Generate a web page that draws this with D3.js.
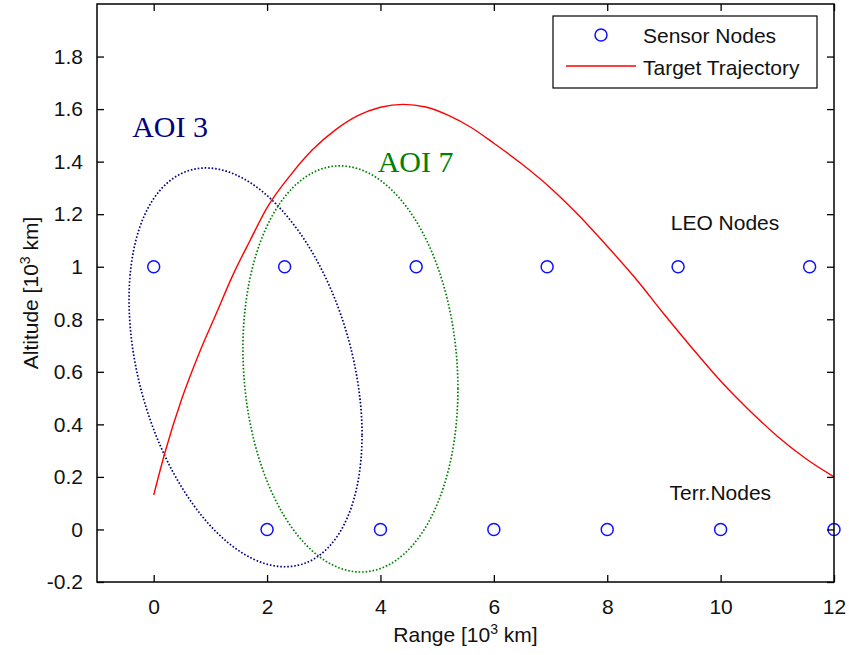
<!DOCTYPE html>
<html>
<head>
<meta charset="utf-8">
<script src="https://cdn.jsdelivr.net/npm/d3@7"></script>
<style>
  html, body { margin: 0; padding: 0; background: #fff; }
  svg { display: block; }
  text { font-family: "Liberation Sans", Arial, Helvetica, sans-serif; }
</style>
</head>
<body>
<svg id="chart" width="849" height="655"></svg>
<script>
// ---------------- data ----------------
const xTicks = [0, 2, 4, 6, 8, 10, 12];
const yTicks = [-0.2, 0, 0.2, 0.4, 0.6, 0.8, 1, 1.2, 1.4, 1.6, 1.8];
const xTickLabels = ["0", "2", "4", "6", "8", "10", "12"];
const yTickLabels = ["-0.2", "0", "0.2", "0.4", "0.6", "0.8", "1", "1.2", "1.4", "1.6", "1.8"];

const leoRange = [0, 2.31, 4.63, 6.94, 9.25, 11.57];
const leoAltitude = [1, 1, 1, 1, 1, 1];
const terrRange = [2, 4, 6, 8, 10, 12];
const terrAltitude = [0, 0, 0, 0, 0, 0];

const trajRange = [0, 0.2, 0.5, 0.8, 1.1, 1.4, 1.7, 2.0, 2.4, 2.8, 3.2, 3.6, 4.0, 4.4, 4.8, 5.2, 5.6, 6.0, 6.5, 7.0, 7.5, 8.0, 8.5, 9.0, 9.5, 10.0, 10.5, 11.0, 11.5, 12.0];
const trajAltitude = [0.131, 0.294, 0.50, 0.67, 0.82, 0.97, 1.10, 1.225, 1.345, 1.445, 1.52, 1.575, 1.607, 1.618, 1.608, 1.576, 1.53, 1.47, 1.39, 1.30, 1.195, 1.078, 0.955, 0.82, 0.69, 0.565, 0.455, 0.355, 0.27, 0.20];

// AOI ellipses: centre, half extents and x-shift of the topmost point (data units)
const aoiNames = ["AOI 3", "AOI 7"];
const aoiCenterX = [1.62, 3.47];
const aoiCenterY = [0.617, 0.611];
const aoiHalfWidth = [2.055, 1.896];
const aoiHalfHeight = [0.759, 0.773];
const aoiTopShift = [-0.697, -0.185];
const aoiLabelX = [-0.38, 3.95];
const aoiLabelY = [1.495, 1.362];
const aoiColors = ["#000080", "#008000"];

const annotations = [
  { text: "LEO Nodes", x: 9.12, y: 1.138 },
  { text: "Terr.Nodes", x: 9.10, y: 0.113 }
];

// ---------------- layout ----------------
const svg = d3.select("#chart");
const L = 97, R = 834, T = 4, B = 582;
const x = d3.scaleLinear().domain([-1, 12]).range([L, R]);
const y = d3.scaleLinear().domain([-0.2, 2]).range([B, T]);

// ellipses
function ellipsePoints(i) {
  const W = aoiHalfWidth[i], H = aoiHalfHeight[i];
  const k = aoiTopShift[i] * H / W;
  const m = Math.sqrt(H * H - k * k);
  const pts = [];
  for (let j = 0; j <= 360; j++) {
    const t = j / 360 * 2 * Math.PI;
    pts.push([aoiCenterX[i] + W * Math.cos(t), aoiCenterY[i] + k * Math.cos(t) + m * Math.sin(t)]);
  }
  return pts;
}
const line = d3.line().x(d => x(d[0])).y(d => y(d[1]));

aoiNames.forEach((name, i) => {
  svg.append("path")
    .attr("d", line(ellipsePoints(i)))
    .attr("fill", "none")
    .attr("stroke", aoiColors[i])
    .attr("stroke-width", 1.7)
    .attr("stroke-dasharray", "1.6,1.9");
  svg.append("text")
    .attr("x", x(aoiLabelX[i]))
    .attr("y", y(aoiLabelY[i]))
    .attr("fill", aoiColors[i])
    .style("font-family", "'Liberation Serif', 'Times New Roman', serif")
    .style("font-size", "30px")
    .text(name);
});

// trajectory
const traj = trajRange.map((r, i) => [r, trajAltitude[i]]);
svg.append("path")
  .attr("d", d3.line().x(d => x(d[0])).y(d => y(d[1])).curve(d3.curveMonotoneX)(traj))
  .attr("fill", "none")
  .attr("stroke", "#ff0000")
  .attr("stroke-width", 1.4);

// sensor nodes
const nodes = leoRange.map((r, i) => [r, leoAltitude[i]])
  .concat(terrRange.map((r, i) => [r, terrAltitude[i]]));
svg.selectAll("circle.node").data(nodes).enter().append("circle")
  .attr("class", "node")
  .attr("cx", d => x(d[0]))
  .attr("cy", d => y(d[1]))
  .attr("r", 6)
  .attr("fill", "none")
  .attr("stroke", "#1010ff")
  .attr("stroke-width", 1.5);

// annotations
annotations.forEach(a => {
  svg.append("text")
    .attr("x", x(a.x)).attr("y", y(a.y))
    .style("font-size", "21px")
    .attr("fill", "#111")
    .text(a.text);
});

// axes frame
svg.append("rect")
  .attr("x", L).attr("y", T).attr("width", R - L).attr("height", B - T)
  .attr("fill", "none").attr("stroke", "#000").attr("stroke-width", 1.5);

const tickLen = 7;
const xFmt = d => xTickLabels[xTicks.indexOf(d)];
const yFmt = d => yTickLabels[yTicks.indexOf(d)];
const axB = svg.append("g").attr("transform", `translate(0,${B})`)
  .call(d3.axisBottom(x).tickValues(xTicks).tickSizeInner(-tickLen).tickSizeOuter(0).tickPadding(17).tickFormat(xFmt));
const axT = svg.append("g").attr("transform", `translate(0,${T})`)
  .call(d3.axisTop(x).tickValues(xTicks).tickSizeInner(-tickLen).tickSizeOuter(0).tickFormat(""));
const axL = svg.append("g").attr("transform", `translate(${L},0)`)
  .call(d3.axisLeft(y).tickValues(yTicks).tickSizeInner(-tickLen).tickSizeOuter(0).tickPadding(14).tickFormat(yFmt));
const axR = svg.append("g").attr("transform", `translate(${R},0)`)
  .call(d3.axisRight(y).tickValues(yTicks).tickSizeInner(-tickLen).tickSizeOuter(0).tickFormat(""));
[axB, axT, axL, axR].forEach(g => {
  g.select(".domain").remove();
  g.selectAll(".tick line").attr("stroke", "#000").attr("stroke-width", 1.3);
  g.selectAll("text").style("font-size", "21px").style("font-family", "'Liberation Sans', Arial, sans-serif").attr("fill", "#111");
});

// axis labels
const xl = svg.append("text")
  .attr("x", (L + R) / 2).attr("y", 642)
  .attr("text-anchor", "middle")
  .style("font-size", "21px").attr("fill", "#111");
xl.append("tspan").text("Range [10");
xl.append("tspan").attr("dy", -8).style("font-size", "14px").text("3");
xl.append("tspan").attr("dy", 8).text(" km]");

const yl = svg.append("text")
  .attr("transform", `translate(38,${(T + B) / 2}) rotate(-90)`)
  .attr("text-anchor", "middle")
  .style("font-size", "21px").attr("fill", "#111");
yl.append("tspan").text("Altitude [10");
yl.append("tspan").attr("dy", -8).style("font-size", "14px").text("3");
yl.append("tspan").attr("dy", 8).text(" km]");

// legend
const lg = svg.append("g");
lg.append("rect").attr("x", 553).attr("y", 16).attr("width", 264).attr("height", 72)
  .attr("fill", "#fff").attr("stroke", "#000").attr("stroke-width", 1.2);
lg.append("circle").attr("cx", 601).attr("cy", 35).attr("r", 6)
  .attr("fill", "none").attr("stroke", "#1010ff").attr("stroke-width", 1.5);
lg.append("text").attr("x", 643).attr("y", 43).style("font-size", "21px").attr("fill", "#111").text("Sensor Nodes");
lg.append("line").attr("x1", 566).attr("x2", 636).attr("y1", 66).attr("y2", 66)
  .attr("stroke", "#ff0000").attr("stroke-width", 1.4);
lg.append("text").attr("x", 643).attr("y", 75).style("font-size", "21px").attr("fill", "#111").text("Target Trajectory");
</script>
</body>
</html>
